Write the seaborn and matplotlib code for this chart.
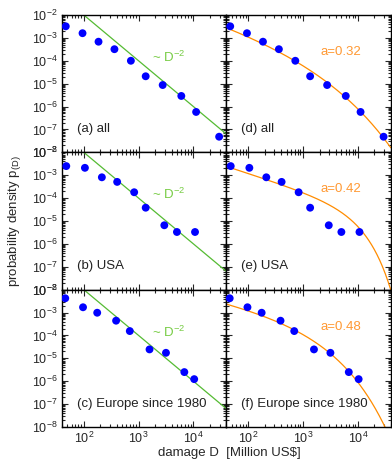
import numpy as np
import matplotlib
matplotlib.use('Agg')
import matplotlib.pyplot as plt
from matplotlib.ticker import LogLocator, NullFormatter
import seaborn as sns

# binned damage values (Million US$) and probability densities
damage_all = [47, 95, 186, 363, 724, 1349, 2754, 6026, 11220, 29510]
dens_all = [3.2e-3, 1.6e-3, 6.8e-4, 3.2e-4, 1.0e-4, 2.1e-5, 8.7e-6, 2.9e-6, 5.8e-7, 4.8e-8]

damage_usa = [48, 105, 214, 407, 832, 1349, 2951, 5012, 10715]
dens_usa = [2.5e-3, 2.1e-3, 8.1e-4, 5.1e-4, 1.8e-4, 3.8e-5, 6.5e-6, 3.3e-6, 3.3e-6]

damage_eu = [46, 97, 176, 389, 692, 1585, 3162, 6839, 10351]
dens_eu = [4.2e-3, 1.7e-3, 9.8e-4, 4.4e-4, 1.55e-4, 2.45e-5, 1.74e-5, 2.5e-6, 1.23e-6]

left_labels = ['(a) all', '(b) USA', '(c) Europe since 1980']
right_labels = ['(d) all', '(e) USA', '(f) Europe since 1980']
a_labels = ['a=0.32', 'a=0.42', 'a=0.48']

# power law reference ~ D^-2, passing 1e-2 at D=100
pl_amp = 100.0
pl_exp = -2.0

# stretched-exponential fits: p = 10^K * D^m * exp(-(D/D0)^c)
fit_K = [-1.079, -1.368, -1.634]
fit_m = [-0.68, -0.776, -0.52]
fit_D0 = [54.3, 5631.0, 302.0]
fit_c = [0.32, 1.0, 0.48]

datasets = [(damage_all, dens_all), (damage_usa, dens_usa), (damage_eu, dens_eu)]

sns.set_style('ticks')
plt.rcParams['font.family'] = ['Liberation Sans', 'DejaVu Sans']
plt.rcParams['mathtext.fontset'] = 'custom'
plt.rcParams['mathtext.rm'] = 'Liberation Sans'
plt.rcParams['mathtext.it'] = 'Liberation Sans'
plt.rcParams['font.size'] = 9
plt.rcParams['xtick.direction'] = 'in'
plt.rcParams['ytick.direction'] = 'in'
plt.rcParams['xtick.top'] = True
plt.rcParams['ytick.right'] = True
plt.rcParams['xtick.major.size'] = 4.5
plt.rcParams['ytick.major.size'] = 4.5
plt.rcParams['xtick.minor.size'] = 2.2
plt.rcParams['ytick.minor.size'] = 2.2
plt.rcParams['xtick.major.pad'] = 3
plt.rcParams['ytick.major.pad'] = 3

fig, axes = plt.subplots(3, 2, figsize=(3.92, 4.61), dpi=100, sharex=True, sharey=True)
fig.subplots_adjust(left=0.158, right=0.997, top=0.9675, bottom=0.0738, hspace=0, wspace=0)

D = np.logspace(np.log10(40), np.log10(40000), 300)
blue = '#0000ff'
green = '#55bb33'
green_txt = '#77cc44'
orange = '#ff8c00'
orange_txt = '#ff9933'

for i, (dx, dy) in enumerate(datasets):
    axl, axr = axes[i, 0], axes[i, 1]

    sns.lineplot(x=D, y=pl_amp * D ** pl_exp, ax=axl, color=green, lw=0.9, sort=False)
    sns.scatterplot(x=dx, y=dy, ax=axl, color=blue, s=32, edgecolor='none', zorder=3)
    axl.text(0.09, 0.17, left_labels[i], transform=axl.transAxes, ha='left', va='center',
             fontsize=9.5, color='#222222')
    axl.text(0.55, 0.69, r'~ D$^{-2}$', transform=axl.transAxes, ha='left', va='center',
             fontsize=9.5, color=green_txt)

    fit = 10 ** fit_K[i] * D ** fit_m[i] * np.exp(-(D / fit_D0[i]) ** fit_c[i])
    sns.lineplot(x=D, y=fit, ax=axr, color=orange, lw=0.9, sort=False)
    sns.scatterplot(x=dx, y=dy, ax=axr, color=blue, s=32, edgecolor='none', zorder=3)
    axr.text(0.09, 0.17, right_labels[i], transform=axr.transAxes, ha='left', va='center',
             fontsize=9.5, color='#222222')
    axr.text(0.575, 0.73, a_labels[i], transform=axr.transAxes, ha='left', va='center',
             fontsize=9.5, color=orange_txt)

for ax in axes.flat:
    ax.set_xscale('log')
    ax.set_yscale('log')
    ax.set_xlim(40, 40000)
    ax.set_ylim(1e-8, 1e-2)
    ax.set_yticks([1e-8, 1e-7, 1e-6, 1e-5, 1e-4, 1e-3, 1e-2])
    ax.set_xticks([1e2, 1e3, 1e4])
    minor = LogLocator(base=10, subs=np.arange(2, 10) * 1.0, numticks=100)
    ax.yaxis.set_minor_locator(minor)
    ax.xaxis.set_minor_locator(LogLocator(base=10, subs=np.arange(2, 10) * 1.0, numticks=100))
    ax.yaxis.set_minor_formatter(NullFormatter())
    ax.xaxis.set_minor_formatter(NullFormatter())
    ax.tick_params(which='both', top=True, right=True, labelsize=9, width=0.8)
    for sp in ax.spines.values():
        sp.set_linewidth(1.0)
        sp.set_color('black')
    ax.set_xlabel('')
    ax.set_ylabel('')

for ax in axes[:, 1]:
    ax.tick_params(labelleft=False)

fig.text(0.585, 0.004, 'damage D  [Million US$]', ha='center', va='bottom', fontsize=9.5)
fig.text(0.015, 0.52, r'probability density p$_{(D)}$', rotation=90, ha='left', va='center',
         fontsize=9.5)

fig.savefig('out.png', dpi=100)
